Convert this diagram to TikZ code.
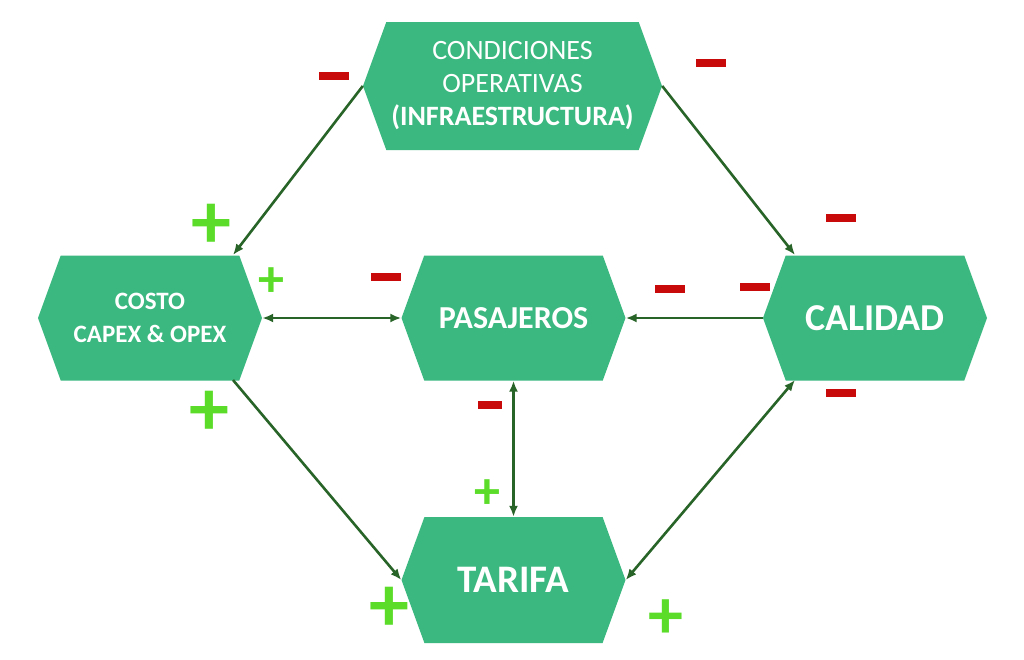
\documentclass[tikz,border=0pt]{standalone}
\usepackage{fontspec}
\setmainfont{Carlito}
\usetikzlibrary{shapes.symbols,calc,arrows.meta}
\definecolor{hexg}{RGB}{58,184,128}
\definecolor{arr}{RGB}{40,100,40}
\definecolor{mred}{RGB}{200,10,10}
\definecolor{pgreen}{RGB}{90,220,40}
\begin{document}
\begin{tikzpicture}[x=1pt,y=-1pt,
 hex/.style={signal,signal to=west and east,signal pointer angle=140,fill=hexg,draw=none,text=white,inner sep=0pt,minimum width=224pt,minimum height=125pt,align=center,font=\bfseries},
 con/.style={draw=arr,line width=2.6pt,-{Latex[length=11pt,width=9pt]}},
 bcon/.style={con,{Latex[length=11pt,width=9pt]}-{Latex[length=11pt,width=9pt]}},
 minus/.style={fill=mred,minimum width=30pt,minimum height=8pt,inner sep=0pt},
 plusb/.style={text=pgreen,font=\bfseries\fontsize{80}{80}\selectfont,inner sep=0pt},
 pluss/.style={text=pgreen,font=\bfseries\fontsize{52}{52}\selectfont,inner sep=0pt}]
\useasboundingbox (0,0) rectangle (1024,659);
\fill[white] (0,0) rectangle (1024,659);
\node[hex,minimum width=299pt,minimum height=128pt,font=\fontsize{28}{33}\selectfont] (top) at (512.5,86) {CONDICIONES\\OPERATIVAS\\\textbf{(INFRAESTRUCTURA)}};
\node[hex,font=\bfseries\fontsize{25}{33}\selectfont] (costo) at (150,318) {COSTO\\CAPEX \& OPEX};
\node[hex,font=\bfseries\fontsize{32}{34}\selectfont] (pas) at (513.5,318) {PASAJEROS};
\node[hex,font=\bfseries\fontsize{38}{40}\selectfont] (cal) at (875,318) {CALIDAD};
\node[hex,minimum height=126pt,font=\bfseries\fontsize{39}{40}\selectfont] (tar) at (513.5,580) {TARIFA};
\coordinate (cTop) at (233,255);
\coordinate (cBot) at (233,380);
\coordinate (kTop) at (795,255);
\coordinate (kBot) at (795,380);
\draw[con] (top.west) -- (cTop);
\draw[con] (top.east) -- (kTop);
\draw[bcon] (costo.east) -- (pas.west);
\draw[con] (cal.west) -- (pas.east);
\draw[bcon] (pas.south) -- (tar.north);
\draw[con] (cBot) -- (tar.west);
\draw[bcon] (kBot) -- (tar.east);
\node[minus] (m1) at (334,76) {};
\node[minus] (m2) at (711,63) {};
\node[minus] (m3) at (841,218) {};
\node[minus] (m4) at (386,277) {};
\node[minus] (m5) at (670,289) {};
\node[minus] (m6) at (755,287) {};
\node[minus] (m7) at (841,393) {};
\node[minus,minimum width=24pt] (m8) at (490,405) {};
\node[plusb] (p1) at (211,226) {+};
\node[pluss] (p2) at (271,282) {+};
\node[plusb] (p3) at (209,413) {+};
\node[pluss] (p4) at (487,494) {+};
\node[plusb] (p5) at (389,609) {+};
\node[plusb,font=\bfseries\fontsize{70}{70}\selectfont] (p6) at (666,619) {+};
\end{tikzpicture}
\end{document}
